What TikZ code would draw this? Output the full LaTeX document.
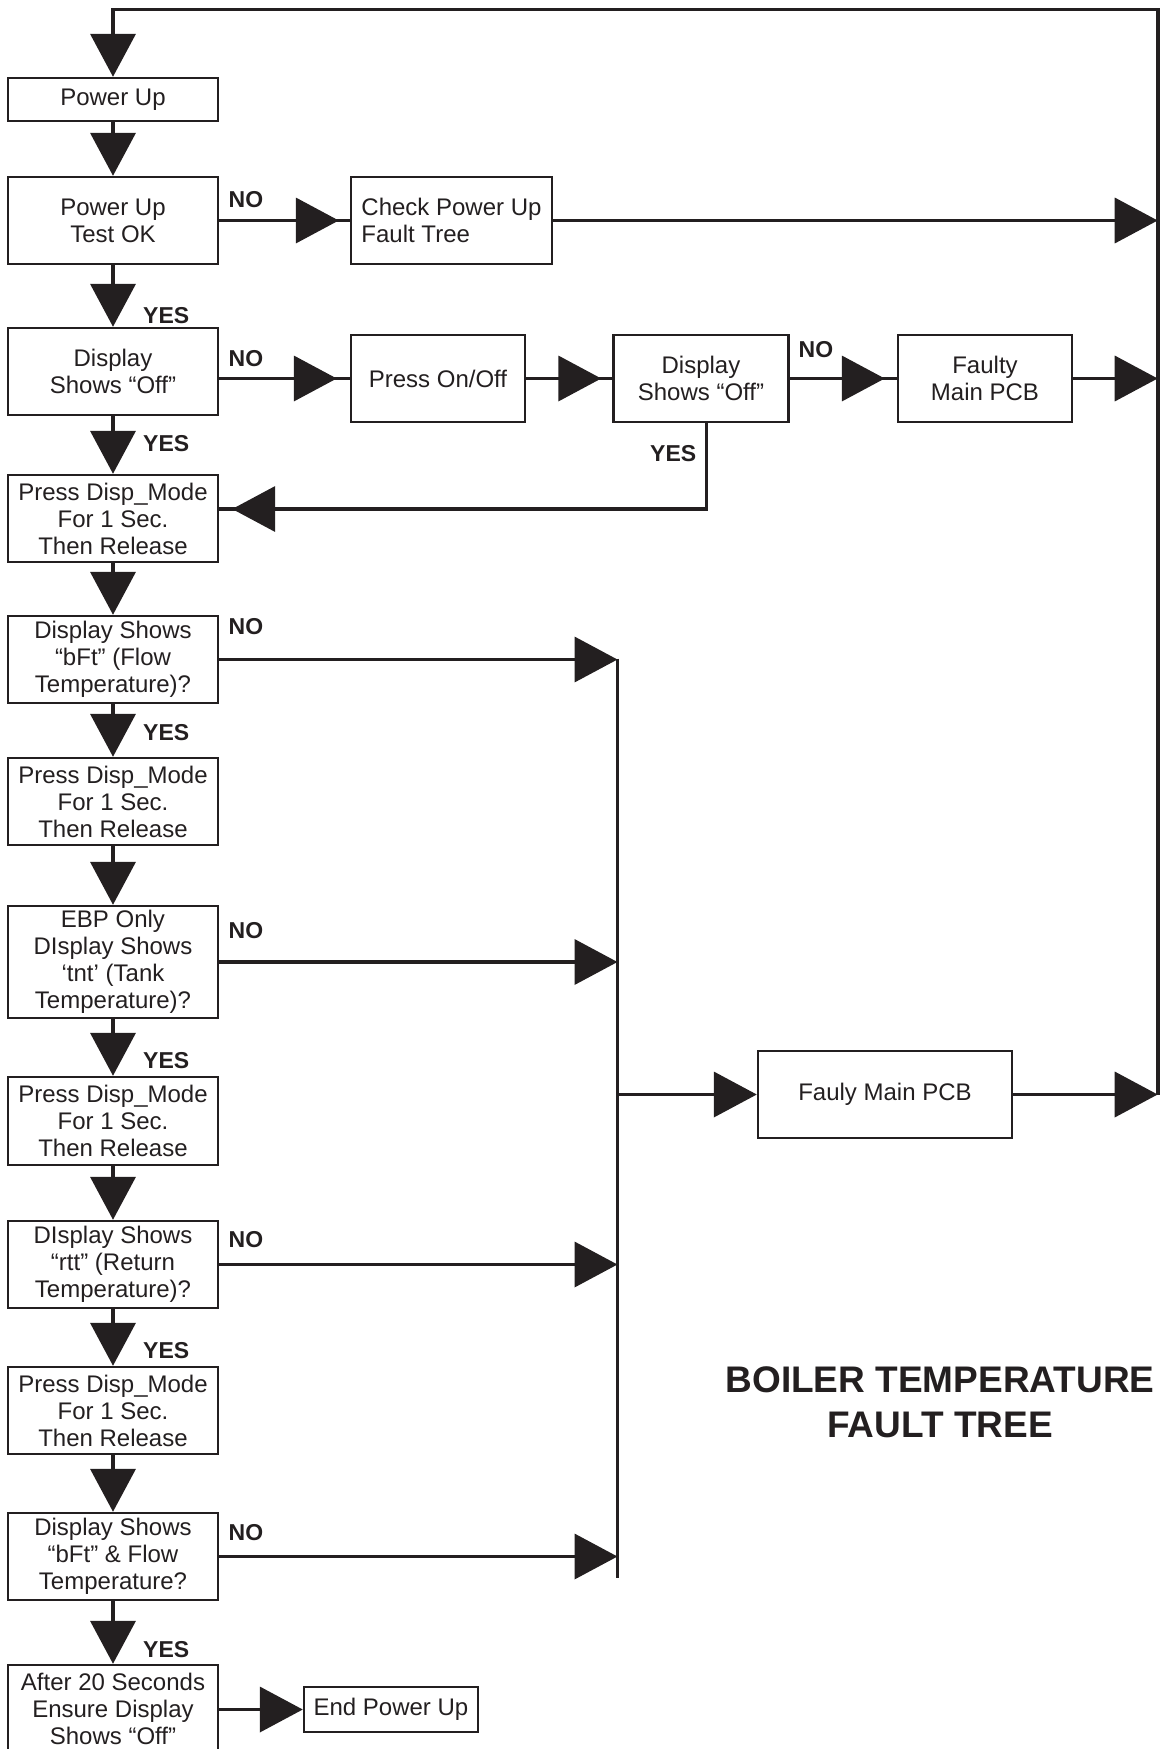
\documentclass[tikz,border=0pt]{standalone}
\usepackage{fontspec}
\setmainfont{Liberation Sans}
\usetikzlibrary{arrows.meta}
\definecolor{ink}{RGB}{35,31,32}
\begin{document}
\begin{tikzpicture}[x=1pt,y=-1pt,
  box/.style={draw=ink, line width=2.4pt, inner sep=0pt, align=center, text=ink, font=\fontsize{24}{27}\selectfont},
  conn/.style={draw=ink, line width=3.8pt},
  arr/.style={conn, -{Triangle[length=43pt,width=45pt]}},
  lab/.style={anchor=base west, text=ink, inner sep=0pt, font=\bfseries\fontsize{23}{26}\selectfont},
  ttl/.style={anchor=base, text=ink, inner sep=0pt, font=\bfseries\fontsize{37}{45}\selectfont},
]
\useasboundingbox (0,0) rectangle (1162,1749);

% left column
\node[box, minimum width=210pt, minimum height=43pt] (pu) at (113,99.5) {Power Up};
\node[box, minimum width=210pt, minimum height=87pt] (put) at (113,220.5) {Power Up\\Test OK};
\node[box, minimum width=210pt, minimum height=87pt] (dso) at (113,371.5) {Display\\Shows “Off”};
\node[box, minimum width=210pt, minimum height=87pt] (p1) at (113,518.5) {Press Disp\_Mode\\For 1 Sec.\\Then Release};
\node[box, minimum width=210pt, minimum height=87pt] (dbft) at (113,659.5) {Display Shows\\“bFt” (Flow\\Temperature)?};
\node[box, minimum width=210pt, minimum height=87pt] (p2) at (113,801.5) {Press Disp\_Mode\\For 1 Sec.\\Then Release};
\node[box, minimum width=210pt, minimum height=112pt] (ebp) at (113,962) {EBP Only\\DIsplay Shows\\‘tnt’ (Tank\\Temperature)?};
\node[box, minimum width=210pt, minimum height=88pt] (p3) at (113,1121) {Press Disp\_Mode\\For 1 Sec.\\Then Release};
\node[box, minimum width=210pt, minimum height=87pt] (rtt) at (113,1264.5) {DIsplay Shows\\“rtt” (Return\\Temperature)?};
\node[box, minimum width=210pt, minimum height=87pt] (p4) at (113,1410.5) {Press Disp\_Mode\\For 1 Sec.\\Then Release};
\node[box, minimum width=210pt, minimum height=87pt] (dflow) at (113,1556.5) {Display Shows\\“bFt” \& Flow\\Temperature?};
\node[box, minimum width=210pt, minimum height=87pt] (a20) at (113,1708.5) {After 20 Seconds\\Ensure Display\\Shows “Off”};

% right side boxes
\node[box, align=left, minimum width=201pt, minimum height=87pt] (cpu) at (451.5,220.5) {Check Power Up\\Fault Tree};
\node[box, minimum width=174pt, minimum height=87pt] (poo) at (438,378.5) {Press On/Off};
\node[box, minimum width=175pt, minimum height=87pt] (d2) at (701,378.5) {Display\\Shows “Off”};
\node[box, minimum width=174pt, minimum height=87pt] (fm1) at (985,378.5) {Faulty\\Main PCB};
\node[box, minimum width=254pt, minimum height=87pt] (fm2) at (885,1094.5) {Fauly Main PCB};
\node[box, minimum width=174pt, minimum height=45.5pt] (endp) at (391,1709.5) {End Power Up};

% coordinates
\coordinate (rtop) at (1157.7,9.5);
\coordinate (ltop) at (113,9.5);
\coordinate (rbot) at (1157.7,1095);
\coordinate (btop) at (617.5,658.5);
\coordinate (bbot) at (617.5,1578);
\coordinate (yturn) at (706.4,509);

% top loop
\draw[arr] (rbot) -- (rtop) -- (ltop) -- (pu.north);

% down arrows
\draw[arr] (pu.south) -- (put.north);
\draw[arr] (put.south) -- (dso.north);
\draw[arr] (dso.south) -- (p1.north);
\draw[arr] (p1.south) -- (dbft.north);
\draw[arr] (dbft.south) -- (p2.north);
\draw[arr] (p2.south) -- (ebp.north);
\draw[arr] (ebp.south) -- (p3.north);
\draw[arr] (p3.south) -- (rtt.north);
\draw[arr] (rtt.south) -- (p4.north);
\draw[arr] (p4.south) -- (dflow.north);
\draw[arr] (dflow.south) -- (a20.north);
\draw[arr] (a20.east |- endp.west) -- (endp.west);

% top right branches
\draw[conn] (put.east) -- (cpu.west);
\draw[arr, shorten >=11pt] (put.east) -- (cpu.west);
\draw[arr] (cpu.east) -- (cpu.east -| rtop);

\draw[conn] (dso.east |- poo.west) -- (poo.west);
\draw[arr, shorten >=13pt] (dso.east |- poo.west) -- (poo.west);
\draw[conn] (poo.east) -- (d2.west);
\draw[arr, shorten >=11pt] (poo.east) -- (d2.west);
\draw[conn] (d2.east) -- (fm1.west);
\draw[arr, shorten >=12pt] (d2.east) -- (fm1.west);
\draw[arr] (fm1.east) -- (fm1.east -| rtop);

\draw[conn] (d2.south -| yturn) -- (yturn) -- (yturn -| p1.east);
\draw[arr, shorten >=13pt] (d2.south -| yturn) -- (yturn) -- (yturn -| p1.east);

% bus
\draw[conn] (btop) -- (bbot);
\draw[arr] (dbft.east) -- (dbft.east -| btop);
\draw[arr] (ebp.east) -- (ebp.east -| btop);
\draw[arr] (rtt.east) -- (rtt.east -| btop);
\draw[arr] (dflow.east) -- (dflow.east -| btop);
\draw[arr] (fm2.west -| btop) -- (fm2.west);
\draw[arr] (fm2.east) -- (fm2.east -| rtop);

% labels
\node[lab] (no1) at (228.5,207) {NO};
\node[lab] (no2) at (228.5,366.5) {NO};
\node[lab] (no3) at (798.5,357) {NO};
\node[lab] (no4) at (228.5,634) {NO};
\node[lab] (no5) at (228.5,938) {NO};
\node[lab] (no6) at (228.5,1247) {NO};
\node[lab] (no7) at (228.5,1540) {NO};
\node[lab] (yes1) at (143,323.6) {YES};
\node[lab] (yes2) at (143,451.8) {YES};
\node[lab] (yes3) at (650,461) {YES};
\node[lab] (yes4) at (143,740.7) {YES};
\node[lab] (yes5) at (143,1068.5) {YES};
\node[lab] (yes6) at (143,1358.5) {YES};
\node[lab] (yes7) at (143,1657.4) {YES};

% title
\node[ttl] (t1) at (940,1392) {BOILER TEMPERATURE};
\node[ttl] (t2) at (940,1437) {FAULT TREE};
\end{tikzpicture}
\end{document}
